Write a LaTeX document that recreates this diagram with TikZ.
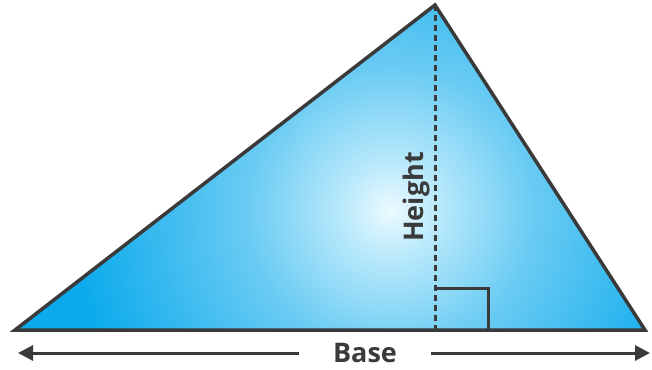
\documentclass[tikz,border=0pt]{standalone}
\usepackage{fontspec}
\setmainfont{Open Sans}
\usetikzlibrary{arrows.meta}
\definecolor{triblue}{RGB}{10,170,236}
\definecolor{trimid}{RGB}{105,203,243}
\definecolor{trisoft}{RGB}{185,233,251}
\definecolor{trilight}{RGB}{236,250,255}
\definecolor{inkgray}{RGB}{58,58,58}
\pgfdeclareradialshading{glow}{\pgfpoint{0bp}{0bp}}{%
  color(0bp)=(trilight); color(3bp)=(trisoft); color(9bp)=(trimid);
  color(20bp)=(triblue); color(50bp)=(triblue)}

\begin{document}
\begin{tikzpicture}[
  x=1pt, y=-1pt,
  edge/.style={draw=inkgray, line width=3.5pt, line join=miter},
  hgt/.style={draw=inkgray, line width=3pt, dash pattern=on 6pt off 4pt},
  arr/.style={draw=inkgray, line width=3pt, -{Triangle[length=15pt,width=15pt]}},
  lbl/.style={font=\fontsize{27}{30}\selectfont\bfseries, text=inkgray,
              inner sep=0pt}
]
\useasboundingbox (0,0) rectangle (652,369);
\coordinate (left)  at (15,330);
\coordinate (right) at (645,330);
\coordinate (apex)  at (435,5);
\coordinate (foot)  at (435,330);
\coordinate (bl)    at (18,353);
\coordinate (br)    at (650,353);
% gradient fill
\begin{scope}
  \clip (left) -- (apex) -- (right) -- cycle;
  \fill[triblue] (left) -- (apex) -- (right) -- cycle;
  \shade[shading=glow] (390,210) circle (400);
\end{scope}
\draw[hgt] (apex) -- (foot);
\draw[edge, line width=3pt] (435,288) -- (488,288) -- (488,330);
\draw[edge] (left) -- (apex) -- (right) -- cycle;
\node[lbl, rotate=90] (height) at (416,197) {Height};
\node[lbl, inner xsep=34pt] (base) at (365,353) {Base};
\draw[arr] (base.west) -- (bl);
\draw[arr] (base.east) -- (br);
\end{tikzpicture}
\end{document}
